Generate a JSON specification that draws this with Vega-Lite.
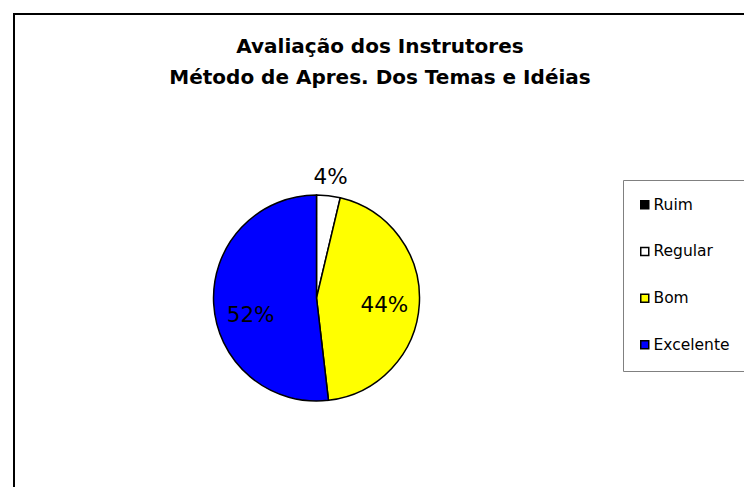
{
  "$schema": "https://vega.github.io/schema/vega-lite/v6.json",
  "width": 740,
  "height": 483,
  "autosize": {"type": "none"},
  "padding": {"left": 14, "top": 14, "right": -10, "bottom": -10},
  "background": "white",
  "view": {"stroke": "black", "strokeWidth": 2, "fill": "white"},
  "title": {
    "text": ["Avaliação dos Instrutores", "Método de Apres. Dos Temas e Idéias"],
    "font": "DejaVu Sans",
    "fontSize": 20,
    "fontWeight": "bold",
    "color": "black",
    "lineHeight": 31,
    "anchor": "middle",
    "frame": "group",
    "offset": -74,
    "dx": -4
  },
  "data": {
    "values": [
      {"categoria": "Ruim", "valor": 0, "ordem": 1, "rotulo": ""},
      {"categoria": "Regular", "valor": 1, "ordem": 2, "rotulo": "4%"},
      {"categoria": "Bom", "valor": 12, "ordem": 3, "rotulo": "44%"},
      {"categoria": "Excelente", "valor": 14, "ordem": 4, "rotulo": "52%"}
    ]
  },
  "encoding": {
    "theta": {"field": "valor", "type": "quantitative", "stack": true},
    "order": {"field": "ordem", "type": "quantitative"}
  },
  "layer": [
    {
      "mark": {
        "type": "arc",
        "outerRadius": 103,
        "stroke": "black",
        "strokeWidth": 1.5,
        "x": {"expr": "width * 0.4088"},
        "y": {"expr": "height * 0.588"}
      },
      "encoding": {
        "color": {
          "field": "categoria",
          "type": "nominal",
          "sort": ["Ruim", "Regular", "Bom", "Excelente"],
          "scale": {
            "domain": ["Ruim", "Regular", "Bom", "Excelente"],
            "range": ["#000000", "#ffffff", "#ffff00", "#0000ff"]
          },
          "legend": {
            "orient": "none",
            "legendX": 609,
            "legendY": 166,
            "title": null,
            "symbolType": "square",
            "symbolSize": 64,
            "symbolStrokeColor": "black",
            "symbolStrokeWidth": 1.5,
            "symbolOpacity": 1,
            "symbolOffset": -3,
            "labelFont": "DejaVu Sans",
            "labelFontSize": 15.5,
            "labelColor": "black",
            "labelOffset": 1,
            "rowPadding": 29.7,
            "padding": 17,
            "strokeColor": "#808080",
            "fillColor": "white"
          }
        }
      }
    },
    {
      "mark": {
        "type": "text",
        "radius": 68,
        "font": "DejaVu Sans",
        "fontSize": 21.5,
        "dy": 4,
        "x": {"expr": "width * 0.4088"},
        "y": {"expr": "height * 0.588"}
      },
      "encoding": {
        "detail": {"field": "categoria", "type": "nominal"},
        "color": {"value": "black"},
        "text": {
          "condition": {"test": "datum.categoria === 'Bom'", "field": "rotulo"},
          "value": ""
        }
      }
    },
    {
      "mark": {
        "type": "text",
        "radius": 69,
        "font": "DejaVu Sans",
        "fontSize": 21.5,
        "dy": 14,
        "dx": 3,
        "x": {"expr": "width * 0.4088"},
        "y": {"expr": "height * 0.588"}
      },
      "encoding": {
        "detail": {"field": "categoria", "type": "nominal"},
        "color": {"value": "black"},
        "text": {
          "condition": {"test": "datum.categoria === 'Excelente'", "field": "rotulo"},
          "value": ""
        }
      }
    },
    {
      "mark": {
        "type": "text",
        "radius": 121,
        "font": "DejaVu Sans",
        "fontSize": 21.5,
        "x": {"expr": "width * 0.4088"},
        "y": {"expr": "height * 0.588"}
      },
      "encoding": {
        "detail": {"field": "categoria", "type": "nominal"},
        "color": {"value": "black"},
        "text": {
          "condition": {"test": "datum.categoria === 'Regular'", "field": "rotulo"},
          "value": ""
        }
      }
    }
  ],
  "config": {
    "view": {"stroke": "black", "strokeWidth": 2}
  }
}
